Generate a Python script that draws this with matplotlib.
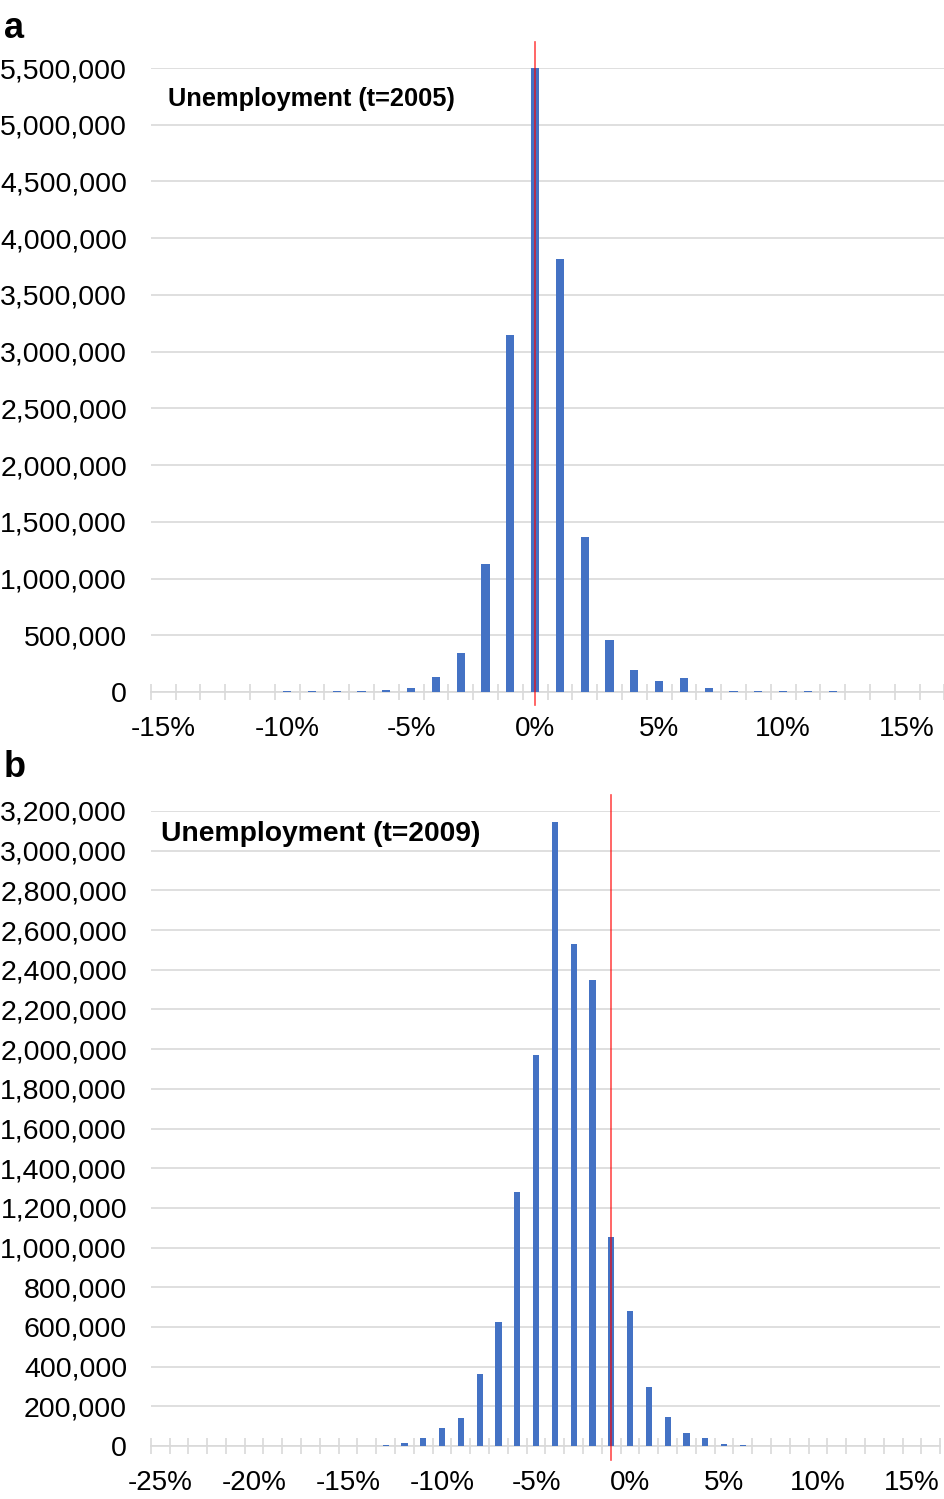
import matplotlib
matplotlib.use("Agg")
import matplotlib.pyplot as plt
from matplotlib.ticker import FuncFormatter, MultipleLocator, FixedLocator
import numpy as np

plt.rcParams['font.family'] = ['Liberation Sans', 'DejaVu Sans']

# panel a: unemployment change, t=2005
a_pct = list(range(-15, 17))
a_counts = [2000, 2500, 3000, 3500, 4000, 5000, 5500, 7000, 9000, 20000,
            35000, 130000, 345000, 1130000, 3150000, 5520000, 3820000, 1370000,
            460000, 195000, 97000, 123000, 35000, 9000, 10000, 8000, 6000,
            5000, 2000, 2000, 1500, 1500]
a_ref = 0

# panel b: unemployment change, t=2009
b_pct = list(range(-25, 17))
b_counts = [500, 500, 1000, 1500, 1000, 1500, 1500, 2000, 2000, 2000, 2000,
            2500, 6000, 16000, 42000, 92000, 140000, 363000, 625000, 1280000,
            1970000, 3144000, 2529000, 2348000, 1053000, 680000, 297000,
            146000, 65000, 40000, 12000, 6000, 2000, 1500, 1000, 1000, 1000,
            1000, 800, 800, 500, 500]
b_ref = -1

BLUE = '#4472C4'
GRID = '#d9d9d9'

fig = plt.figure(figsize=(9.44, 14.99), dpi=100)
fig.patch.set_facecolor('white')

def panel(rect, pct, counts, ymax, ystep, ref, title, tpos, tsize, red_ext):
    ax = fig.add_axes(rect)
    ax.bar(pct, counts, width=0.33, color=BLUE, zorder=3)
    ax.set_xlim(pct[0] - 0.5, pct[-1] + 0.5)
    ax.set_ylim(0, ymax)
    ax.yaxis.set_major_locator(MultipleLocator(ystep))
    ax.yaxis.set_major_formatter(FuncFormatter(lambda v, p: f'{v:,.0f}'))
    ax.grid(axis='y', color=GRID, lw=1.2, zorder=0)
    for s in ['top', 'right', 'left']:
        ax.spines[s].set_visible(False)
    ax.spines['bottom'].set_color(GRID)
    ax.spines['bottom'].set_linewidth(1.2)
    ax.spines['bottom'].set_zorder(2)
    major = [v for v in pct if v % 5 == 0 and v <= 15]
    ax.xaxis.set_major_locator(FixedLocator(major))
    ax.xaxis.set_major_formatter(FuncFormatter(lambda v, p: f'{v:.0f}%'))
    ax.xaxis.set_minor_locator(FixedLocator(np.arange(pct[0] - 0.5, pct[-1] + 0.6, 1)))
    ax.tick_params(axis='x', which='major', length=0, pad=17, labelsize=20)
    ax.tick_params(axis='x', which='minor', direction='inout', length=12,
                   width=1.2, color=GRID)
    ax.tick_params(axis='y', length=0, pad=17, labelsize=20.5)
    ax.axvline(ref, ymin=red_ext[0], ymax=red_ext[1], color='red', alpha=0.7,
               lw=1.2, clip_on=False, zorder=4)
    ax.text(tpos[0], tpos[1], title, transform=ax.transAxes, fontsize=tsize,
            fontweight='bold', va='center', ha='left')
    return ax

panel([150.7 / 944, 1 - 692 / 1499, 793.6 / 944, 624 / 1499],
      a_pct, a_counts, 5500000, 500000, a_ref, 'Unemployment (t=2005)',
      (0.022, 0.951), 18.3, (-13 / 624, 650 / 624))

panel([150.7 / 944, 1 - 1446 / 1499, 789.6 / 944, 635 / 1499],
      b_pct, b_counts, 3200000, 200000, b_ref, 'Unemployment (t=2009)',
      (0.013, 0.964), 20.3, (-14 / 635, 651 / 635))

fig.text(0.004, 1 - 38 / 1499, 'a', fontsize=26, fontweight='bold', va='baseline')
fig.text(0.004, 1 - 777 / 1499, 'b', fontsize=26, fontweight='bold', va='baseline')

fig.savefig('out.png', dpi=100, facecolor='white')
